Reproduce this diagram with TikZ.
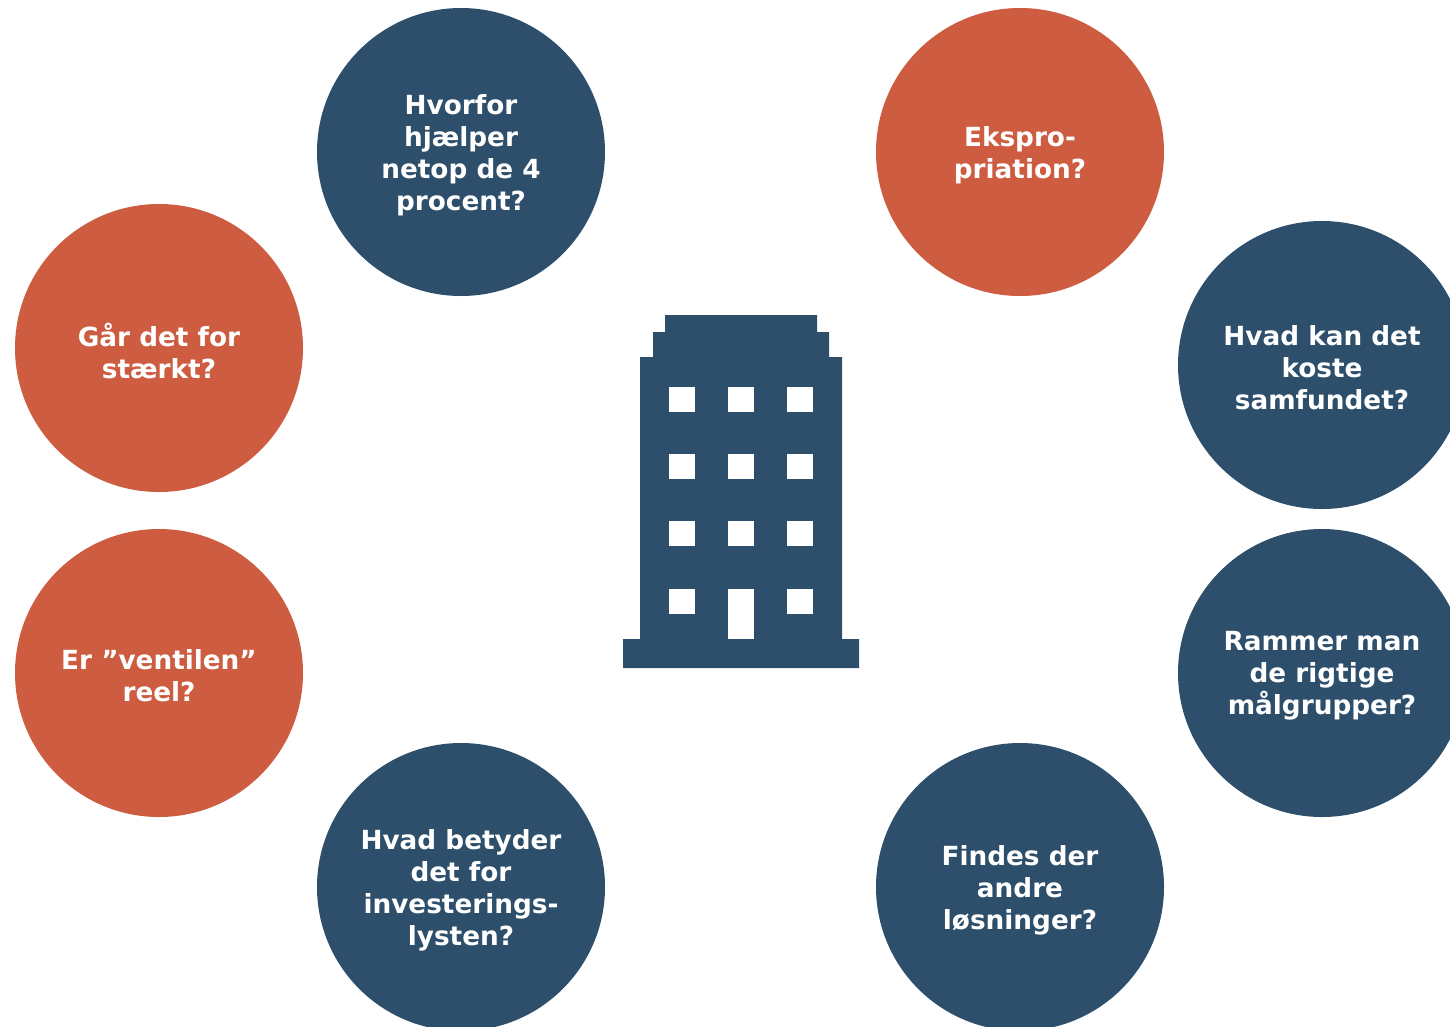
\documentclass[tikz,border=0pt]{standalone}
\usepackage{fontspec}
\setmainfont{DejaVu Sans}
\definecolor{navy}{HTML}{2D4F6B}
\definecolor{rust}{HTML}{CD5C41}
\begin{document}
\begin{tikzpicture}[x=1pt,y=-1pt,
  bubble/.style={circle,minimum size=288pt,inner sep=0pt},
  navybub/.style={bubble,fill=navy},
  rustbub/.style={bubble,fill=rust},
  qtext/.style={text=white,align=center,inner sep=0pt,yshift=-3pt,
    font=\fontsize{26.3}{32}\selectfont\bfseries}]
\useasboundingbox (0,0) rectangle (1450,1026);
\clip (0,0) rectangle (1450,1026);
\node[navybub] (q1) at (461,152) {};
\node[rustbub] (q2) at (1020,152) {};
\node[rustbub] (q3) at (159,348) {};
\node[navybub] (q4) at (1322,365) {};
\node[rustbub] (q5) at (159,673) {};
\node[navybub] (q6) at (1322,673) {};
\node[navybub] (q7) at (461,887) {};
\node[navybub] (q8) at (1020,887) {};
\node[qtext] (t1) at (q1) {Hvorfor\\hjælper\\netop de 4\\procent?};
\node[qtext] (t2) at (q2) {Ekspro-\\priation?};
\node[qtext] (t3) at (q3) {Går det for\\stærkt?};
\node[qtext] (t4) at (q4) {Hvad kan det\\koste\\samfundet?};
\node[qtext] (t5) at (q5) {Er ”ventilen”\\reel?};
\node[qtext] (t6) at (q6) {Rammer man\\de rigtige\\målgrupper?};
\node[qtext] (t7) at (q7) {Hvad betyder\\det for\\investerings-\\lysten?};
\node[qtext] (t8) at (q8) {Findes der\\andre\\løsninger?};
% building
\fill[navy] (665,315) -- (817,315) -- (817,332) -- (829,332) -- (829,357) -- (842,357)
  -- (842,639) -- (859,639) -- (859,668) -- (623,668) -- (623,639) -- (640,639)
  -- (640,357) -- (653,357) -- (653,332) -- (665,332) -- cycle;
\foreach \x in {669,728,787}{
  \foreach \y in {387,454,521}{
    \fill[white] (\x,\y) rectangle ++(25.5,25);
  }
}
\fill[white] (669,589) rectangle ++(25.5,25);
\fill[white] (787,589) rectangle ++(25.5,25);
\fill[white] (728,589) rectangle (753.5,639);
\end{tikzpicture}
\end{document}
